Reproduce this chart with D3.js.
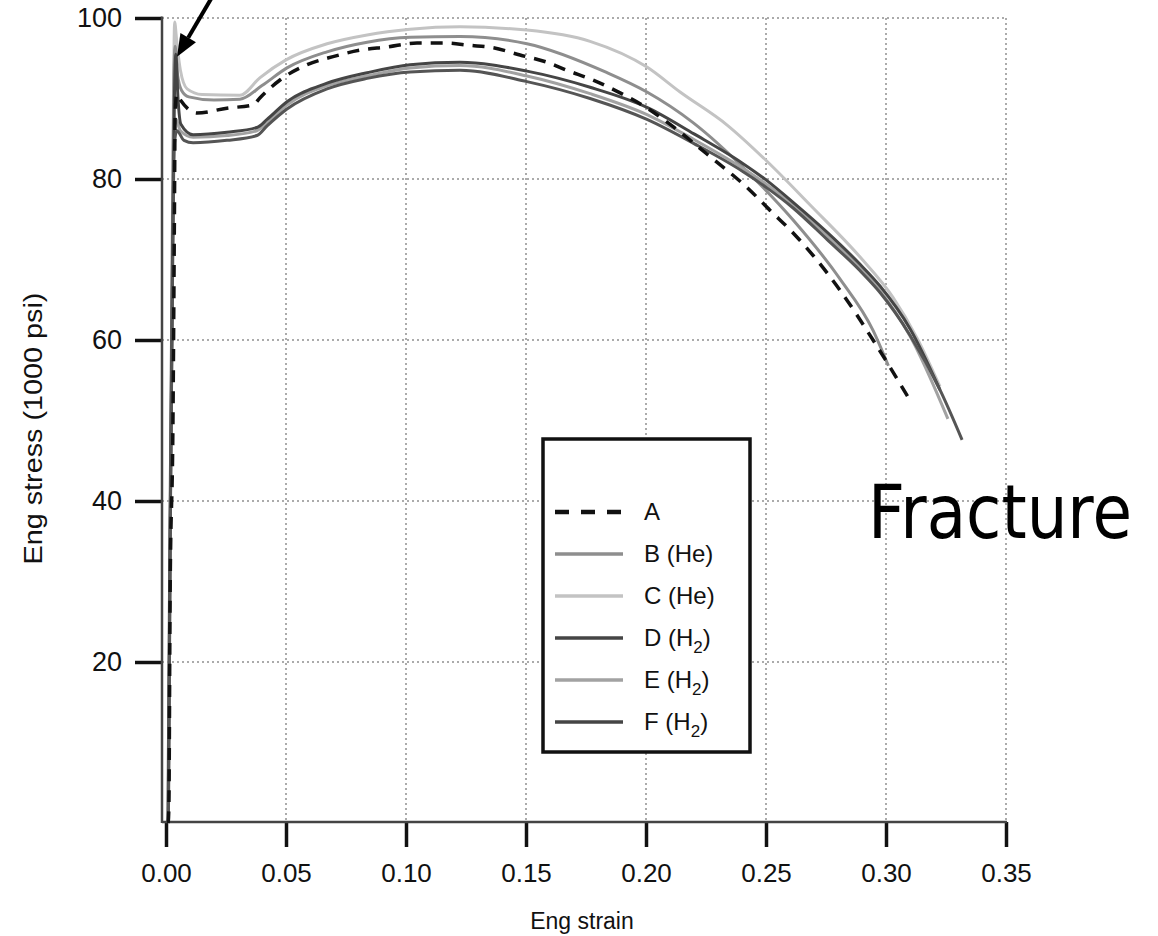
<!DOCTYPE html>
<html>
<head>
<meta charset="utf-8">
<script src="https://cdn.jsdelivr.net/npm/d3@7"></script>
<style>
  html, body { margin: 0; padding: 0; background: #fff; }
  svg { display: block; }
  text { font-family: "Liberation Sans", Arial, sans-serif; fill: #111; }
</style>
</head>
<body>
<svg id="chart" width="1158" height="936"></svg>
<script>
// strain / stress (ksi)
const curveA = [[0.0009,0],[0.0012,2],[0.0017,28],[0.0029,50],[0.0035,75],[0.0038,88],[0.0045,90.5],[0.006,89.8],[0.0129,88.2],[0.0254,88.8],[0.0363,89.2],[0.0392,90.1],[0.0475,92.3],[0.0588,94.2],[0.0696,95.2],[0.0808,96.0],[0.0921,96.4],[0.1046,96.9],[0.1154,96.9],[0.1267,96.6],[0.1363,96.3],[0.1475,95.4],[0.1588,94.5],[0.1671,93.5],[0.1779,92.3],[0.1892,90.7],[0.2,88.9],[0.2113,86.5],[0.225,83.2],[0.2433,78.6],[0.2517,76.1],[0.2613,73.3],[0.2713,69.9],[0.2808,66.2],[0.2946,60],[0.31,52.5]];
const curveB = [[0.0008,0],[0.0016,35],[0.0026,70],[0.0033,93],[0.0038,96.5],[0.0048,93],[0.0065,91],[0.0095,90.2],[0.02,89.8],[0.0308,89.9],[0.04,91.6],[0.0504,93.8],[0.0671,95.8],[0.0838,97.0],[0.1017,97.6],[0.1225,97.7],[0.1504,96.8],[0.1838,93.2],[0.2004,90.8],[0.2196,87.0],[0.2433,80.6],[0.2613,74.9],[0.2808,67.6],[0.2946,61.2],[0.301,56.8]];
const curveC = [[0.0008,0],[0.0015,30],[0.0024,65],[0.0031,90],[0.0036,99.5],[0.0045,97],[0.006,93.5],[0.0088,91.2],[0.015,90.5],[0.0308,90.4],[0.0392,92.6],[0.05,94.8],[0.0671,96.8],[0.0838,97.9],[0.1017,98.6],[0.1225,98.9],[0.1504,98.5],[0.1767,97.1],[0.2004,93.9],[0.2142,90.8],[0.2338,86.7],[0.2504,82.2],[0.2683,76.8],[0.2892,70.3],[0.3029,65.3],[0.313,60.2],[0.3225,54.2]];
const curveD = [[0.0009,0],[0.0017,35],[0.0027,70],[0.0035,90],[0.0041,95.5],[0.005,90],[0.0062,86.8],[0.0113,85.5],[0.0254,85.8],[0.0379,86.4],[0.0421,87.4],[0.0504,89.6],[0.0671,91.9],[0.0838,93.2],[0.1017,94.2],[0.1225,94.5],[0.1504,93.4],[0.1767,91.4],[0.2004,88.9],[0.22,85.6],[0.24,82.0],[0.2504,79.8],[0.2613,77.1],[0.2754,73.4],[0.2892,69.4],[0.2975,66.7],[0.31,61.4],[0.3225,53.8]];
const curveE = [[0.001,0],[0.0019,40],[0.0028,72],[0.0034,86],[0.004,87.5],[0.006,86],[0.0113,85.2],[0.0254,85.4],[0.0379,86.0],[0.0421,87.0],[0.0504,89.2],[0.0671,91.6],[0.0838,92.8],[0.1017,93.8],[0.1225,94.1],[0.1504,92.8],[0.1767,90.6],[0.2004,88.0],[0.22,84.9],[0.24,81.4],[0.2504,79.3],[0.2613,76.7],[0.2754,72.9],[0.2892,68.9],[0.2975,66.1],[0.31,60.5],[0.3258,50.2]];
const curveF = [[0.001,0],[0.0018,38],[0.0028,70],[0.0034,84],[0.0045,86],[0.0075,84.8],[0.0113,84.5],[0.0254,84.8],[0.0379,85.4],[0.0421,86.6],[0.0504,88.7],[0.0671,91.2],[0.0838,92.5],[0.1017,93.3],[0.1225,93.5],[0.1504,92.1],[0.1767,90.0],[0.2004,87.4],[0.22,84.4],[0.24,81.0],[0.2504,78.9],[0.2613,76.4],[0.2754,72.5],[0.2892,68.6],[0.2975,65.9],[0.31,60.6],[0.3225,53.8],[0.3317,47.6]];

const xTicks = [0, 0.05, 0.10, 0.15, 0.20, 0.25, 0.30, 0.35];
const yTicks = [20, 40, 60, 80, 100];

// legend: name, subscript
const legendNames = ["A", "B (He)", "C (He)", "D (H", "E (H", "F (H"];
const legendSubs = ["", "", "", "2", "2", "2"];
const legendColors = ["#111111", "#8e8e8e", "#c3c3c3", "#454545", "#a2a2a2", "#454545"];

// arrow to the upper yield point, and the fracture note
const arrowPts = [[0.0192, 102.6], [0.0046, 95.2]];
const fracturePos = [0.2925, 35.4];

const svg = d3.select("#chart");
const x = d3.scaleLinear().domain([0, 0.35]).range([166, 1006]);
const y = d3.scaleLinear().domain([0, 100]).range([823, 18]);
const axisX = x(0) - 4;   // y axis sits a bit left of zero strain
const axisY = y(0) - 1;

// grid
const grid = svg.append("g").attr("stroke", "#909090").attr("stroke-width", 1.5)
  .attr("stroke-dasharray", "2,3");
grid.selectAll(".gy").data(yTicks).enter().append("line")
  .attr("x1", axisX).attr("x2", x(0.35))
  .attr("y1", d => y(d)).attr("y2", d => y(d));
grid.selectAll(".gx").data(xTicks.slice(1)).enter().append("line")
  .attr("x1", d => x(d)).attr("x2", d => x(d))
  .attr("y1", y(100)).attr("y2", axisY);

// axes
const xAxis = d3.axisBottom(x).tickValues(xTicks).tickFormat(d3.format(".2f"))
  .tickSize(25).tickPadding(17);
const gx = svg.append("g").attr("transform", `translate(0,${axisY})`).call(xAxis);
gx.select(".domain").remove();
gx.selectAll(".tick line").attr("stroke", "#111").attr("stroke-width", 3.5);
gx.selectAll(".tick text").style("font-size", "26px").attr("fill", "#111");

const yAxis = d3.axisLeft(y).tickValues(yTicks).tickSize(27).tickPadding(13);
const gy = svg.append("g").attr("transform", `translate(${axisX},0)`).call(yAxis);
gy.select(".domain").remove();
gy.selectAll(".tick line").attr("stroke", "#111").attr("stroke-width", 3.5);
gy.selectAll(".tick text").style("font-size", "27px").attr("fill", "#111");

svg.append("line").attr("x1", axisX).attr("x2", axisX)
  .attr("y1", y(100) - 1.5).attr("y2", axisY + 1)
  .attr("stroke", "#444").attr("stroke-width", 2.5);
svg.append("line").attr("x1", axisX).attr("x2", x(0.35) + 1)
  .attr("y1", axisY).attr("y2", axisY)
  .attr("stroke", "#444").attr("stroke-width", 2.5);

svg.append("text").attr("x", (x(0) + x(0.35)) / 2 - 4).attr("y", 929)
  .attr("text-anchor", "middle").style("font-size", "23px").text("Eng strain");
svg.append("text")
  .attr("transform", `translate(42,${y(49)}) rotate(-90)`)
  .attr("text-anchor", "middle").style("font-size", "25px")
  .attr("textLength", 272).attr("lengthAdjust", "spacingAndGlyphs")
  .text("Eng stress (1000 psi)");

// curves
const series = [
  { data: curveC, color: "#c3c3c3", dash: null },
  { data: curveB, color: "#8e8e8e", dash: null },
  { data: curveE, color: "#a2a2a2", dash: null },
  { data: curveD, color: "#454545", dash: null },
  { data: curveF, color: "#555555", dash: null },
  { data: curveA, color: "#111111", dash: "12,9" }
];
const line = d3.line().x(d => x(d[0])).y(d => y(d[1])).curve(d3.curveMonotoneX);
svg.append("g").selectAll("path").data(series).enter().append("path")
  .attr("d", d => line(d.data))
  .attr("fill", "none")
  .attr("stroke", d => d.color)
  .attr("stroke-width", d => d.dash ? 3.5 : 3)
  .attr("stroke-dasharray", d => d.dash)
  .attr("stroke-linejoin", "round");

// legend
const lg = svg.append("g").attr("transform", "translate(543,439)");
lg.append("rect").attr("width", 207).attr("height", 313)
  .attr("fill", "#fff").attr("stroke", "#111").attr("stroke-width", 3.5);
const rows = lg.selectAll(".row").data(legendNames).enter().append("g")
  .attr("transform", (d, i) => `translate(0,${73 + i * 42})`);
rows.append("line").attr("x1", 12).attr("x2", 80)
  .attr("stroke", (d, i) => legendColors[i])
  .attr("stroke-width", (d, i) => i === 0 ? 4.5 : 3.5)
  .attr("stroke-dasharray", (d, i) => i === 0 ? "14,12" : null);
const lt = rows.append("text").attr("x", 101).attr("y", 8).style("font-size", "24px");
lt.append("tspan").text(d => d);
lt.filter((d, i) => legendSubs[i] !== "").each(function(d, i) {
  const t = d3.select(this);
  t.append("tspan").attr("dy", 7).style("font-size", "17px").text("2");
  t.append("tspan").attr("dy", -7).text(")");
});

// arrow
const ax0 = x(arrowPts[0][0]), ay0 = y(arrowPts[0][1]);
const ax1 = x(arrowPts[1][0]), ay1 = y(arrowPts[1][1]);
const len = Math.hypot(ax1 - ax0, ay1 - ay0);
const ux = (ax1 - ax0) / len, uy = (ay1 - ay0) / len;
const hb = [ax1 - ux * 22, ay1 - uy * 22];
svg.append("line").attr("x1", ax0).attr("y1", ay0).attr("x2", hb[0]).attr("y2", hb[1])
  .attr("stroke", "#000").attr("stroke-width", 4);
svg.append("path")
  .attr("d", `M${ax1},${ay1}L${hb[0] - uy * 9},${hb[1] + ux * 9}L${hb[0] + uy * 9},${hb[1] - ux * 9}Z`)
  .attr("fill", "#000");

// fracture note, squeezed to the width it has in the picture
const ft = svg.append("text")
  .style("font-family", "'DejaVu Sans', Verdana, sans-serif")
  .style("font-size", "74px").style("fill", "#000")
  .text("Fracture");
const fw = ft.node().getComputedTextLength();
ft.attr("transform", `translate(${x(fracturePos[0])},${y(fracturePos[1])}) scale(${264 / fw},1)`);
</script>
</body>
</html>
